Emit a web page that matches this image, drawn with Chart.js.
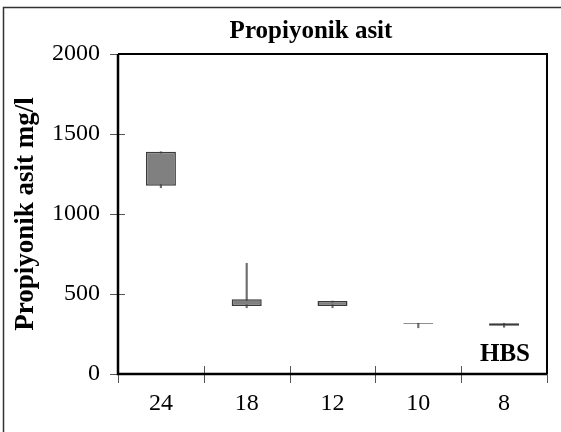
<!DOCTYPE html>
<html>
<head>
<meta charset="utf-8">
<script src="https://cdn.jsdelivr.net/npm/chart.js@4/dist/chart.umd.min.js"></script>
<style>
  html, body { margin: 0; padding: 0; background: #fff; overflow: hidden; }
  #wrap { width: 622px; height: 440px; }
</style>
</head>
<body>
<div id="wrap"><canvas id="c" width="622" height="440"></canvas></div>
<script>
// hours (HBS) on the x axis
const labels = ['24', '18', '12', '10', '8'];
// box = middle range, whisker = lowest/highest value (mg/l)
const boxLow = [1177, 425, 425, 314, 302];
const boxHigh = [1389, 467, 456, 318, 317];
const whiskerLow = [1164, 414, 414, 289, 292];
const whiskerHigh = [1389, 692, 456, 317, 317];
const yTicks = [0, 500, 1000, 1500, 2000];

const serif = "'Liberation Serif', 'Times New Roman', serif";

function pairs(lo, hi) {
        let out = [];
        for (let i = 0; i < lo.length; i++) {
                out.push([lo[i], hi[i]]);
        }
        return out;
}

const framePlugin = {
        id: 'frame',
        beforeDraw(chart) {
                const ctx = chart.ctx;
                ctx.save();
                ctx.fillStyle = '#fff';
                ctx.fillRect(0, 0, chart.width, chart.height);
                ctx.strokeStyle = '#333';
                ctx.lineWidth = 1.5;
                ctx.strokeRect(3.5, 7.5, 800, 600);
                ctx.restore();
        },
        afterDraw(chart) {
                const ctx = chart.ctx;
                const a = chart.chartArea;
                const x = chart.scales.x;
                const y = chart.scales.y;
                ctx.save();
                // crossing tick marks
                ctx.strokeStyle = '#555';
                ctx.lineWidth = 1;
                yTicks.forEach(v => {
                        const py = Math.round(y.getPixelForValue(v)) + 0.5;
                        ctx.beginPath();
                        ctx.moveTo(a.left - 8, py);
                        ctx.lineTo(v === 2000 ? a.left : a.left + 7, py);
                        ctx.stroke();
                });
                for (let i = 0; i <= labels.length; i++) {
                        let px;
                        if (i === 0) px = a.left;
                        else if (i === labels.length) px = a.right;
                        else px = (x.getPixelForValue(i - 1) + x.getPixelForValue(i)) / 2;
                        px = Math.round(px) + 0.5;
                        ctx.beginPath();
                        ctx.moveTo(px, a.bottom - 8);
                        ctx.lineTo(px, a.bottom + 9);
                        ctx.stroke();
                }
                // plot frame
                ctx.strokeStyle = '#000';
                ctx.lineWidth = 2;
                ctx.beginPath();
                ctx.moveTo(a.left, a.top);
                ctx.lineTo(a.right, a.top);
                ctx.lineTo(a.right, a.bottom);
                ctx.stroke();
                ctx.lineWidth = 2.5;
                ctx.beginPath();
                ctx.moveTo(a.left, a.top);
                ctx.lineTo(a.left, a.bottom);
                ctx.lineTo(a.right, a.bottom);
                ctx.stroke();
                // group label
                ctx.fillStyle = '#000';
                ctx.font = 'bold 25px ' + serif;
                ctx.textAlign = 'right';
                ctx.textBaseline = 'middle';
                ctx.fillText('HBS', a.right - 17, a.bottom - 19);
                ctx.restore();
        }
};

const config = {
        type: 'bar',
        data: {
                labels: labels,
                datasets: [{
                                label: 'box',
                                data: pairs(boxLow, boxHigh),
                                backgroundColor: '#808080',
                                borderColor: '#3a3a3a',
                                borderWidth: 1.5,
                                borderSkipped: false,
                                barPercentage: 0.35,
                                categoryPercentage: 1,
                                grouped: false,
                                order: 1
                }, {
                                label: 'whisker',
                                data: pairs(whiskerLow, whiskerHigh),
                                backgroundColor: '#6e6e6e',
                                borderWidth: 0,
                                barThickness: 1.5,
                                grouped: false,
                                order: 2
                }]
        },
        options: {
                responsive: false,
                animation: false,
                layout: { padding: 0 },
                plugins: {
                        legend: { display: false },
                        tooltip: { enabled: false },
                        title: {
                                display: true,
                                text: 'Propiyonik asit',
                                color: '#000',
                                font: { family: serif, size: 25, weight: 'bold', lineHeight: 1 },
                                padding: { top: 19, bottom: 10 }
                        }
                },
                scales: {
                        x: {
                                grid: { display: false },
                                border: { display: false },
                                ticks: { color: '#000', padding: 7, font: { family: serif, size: 24 } },
                                afterFit: s => { s.height = 66; }
                        },
                        y: {
                                min: 0,
                                max: 2000,
                                grid: { display: false },
                                border: { display: false },
                                afterBuildTicks: s => { s.ticks = yTicks.map(v => ({ value: v })); },
                                ticks: {
                                        color: '#000',
                                        padding: 10,
                                        font: { family: serif, size: 24 },
                                        callback: v => String(v)
                                },
                                title: {
                                        display: true,
                                        text: 'Propiyonik asit mg/l',
                                        color: '#000',
                                        font: { family: serif, size: 27, weight: 'bold', lineHeight: 1 },
                                        padding: { top: 13, bottom: 0 }
                                },
                                afterFit: s => { s.width = 118; }
                        },
                        y2: {
                                position: 'right',
                                grid: { display: false },
                                border: { display: false },
                                ticks: { display: false },
                                afterFit: s => { s.width = 75; }
                        }
                }
        },
        plugins: [framePlugin]
};

new Chart(document.getElementById('c').getContext('2d'), config);
</script>
</body>
</html>
